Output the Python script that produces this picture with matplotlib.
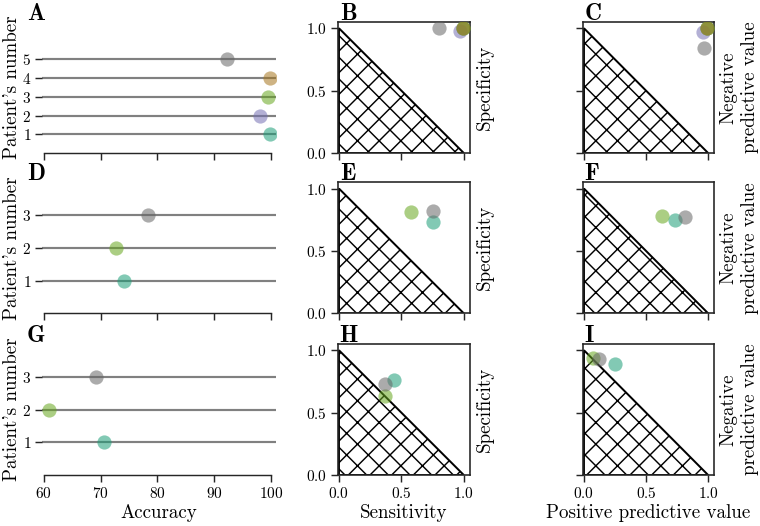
import matplotlib.pyplot as plt
from matplotlib.patches import Polygon

plt.rcParams['font.family'] = 'cmr10'
plt.rcParams['mathtext.fontset'] = 'cm'
plt.rcParams['axes.formatter.use_mathtext'] = True
plt.rcParams['hatch.linewidth'] = 0.8

# Dark2 picks, drawn half transparent
TEAL, PURPLE, GREEN, BROWN, GREY = '#1b9e77', '#7570b3', '#66a61e', '#a6761d', '#666666'

# row 1: five patients
acc_1 = [99.8, 98.0, 99.5, 99.9, 92.3]
sens_1 = [0.99, 0.97, 0.99, 0.99, 0.80]
spec_1 = [1.0, 0.98, 1.0, 1.0, 1.0]
ppv_1 = [0.99, 0.955, 0.99, 0.99, 0.97]
npv_1 = [1.0, 0.97, 1.0, 1.0, 0.84]
col_1 = [TEAL, PURPLE, GREEN, BROWN, GREY]

# row 2: three patients
acc_2 = [74.1, 72.8, 78.3]
sens_2 = [0.75, 0.58, 0.75]
spec_2 = [0.73, 0.81, 0.82]
ppv_2 = [0.73, 0.63, 0.81]
npv_2 = [0.75, 0.78, 0.77]
col_2 = [TEAL, GREEN, GREY]

# row 3: three patients
acc_3 = [70.7, 61.0, 69.2]
sens_3 = [0.44, 0.37, 0.37]
spec_3 = [0.76, 0.63, 0.73]
ppv_3 = [0.25, 0.07, 0.12]
npv_3 = [0.89, 0.94, 0.93]
col_3 = [TEAL, GREEN, GREY]

rows = [
    (acc_1, sens_1, spec_1, ppv_1, npv_1, col_1, 7),
    (acc_2, sens_2, spec_2, ppv_2, npv_2, col_2, 4),
    (acc_3, sens_3, spec_3, ppv_3, npv_3, col_3, 4),
]
letters = [['A', 'B', 'C'], ['D', 'E', 'F'], ['G', 'H', 'I']]

W, H = 760, 526
fig = plt.figure(figsize=(W / 130, H / 130), dpi=130)

col_x = [(42, 234), (337.7, 132.3), (582.7, 131.6)]
row_bottom = [153, 313.3, 475]
ax_h = 131

TICK = 8.5
LAB = 10.5
S = 62
ALPHA = 0.55
SPINE = '0.15'


def style_ticks(ax):
    ax.tick_params(direction='out', length=4, width=0.8, labelsize=TICK,
                   color=SPINE, pad=2)


for r, (acc, sens, spec, ppv, npv, cols, ytop) in enumerate(rows):
    axes = []
    for c in range(3):
        x0, w = col_x[c]
        ax = fig.add_axes([x0 / W, 1 - row_bottom[r] / H, w / W, ax_h / H])
        axes.append(ax)
        fig.text((x0 - 15 if c == 0 else x0 + 2) / W, 1 - (row_bottom[r] - ax_h - 2.5) / H,
                 letters[r][c], fontfamily='cmb10', fontsize=13, va='baseline', ha='left')

    # accuracy panel
    ax = axes[0]
    n = len(acc)
    for i in range(n):
        ax.axhline(i + 1, color='0.5', lw=1.2, zorder=1)
        ax.scatter(acc[i], i + 1, s=S, color=cols[i], alpha=ALPHA, lw=0, zorder=3)
    ax.set_xlim(59.7, 100.9)
    ax.set_ylim(0, ytop)
    ax.set_yticks(range(1, n + 1))
    ax.set_xticks([60, 70, 80, 90, 100])
    for sp in ['top', 'right', 'left']:
        ax.spines[sp].set_visible(False)
    ax.spines['bottom'].set_bounds(60, 100)
    ax.spines['bottom'].set_color(SPINE)
    style_ticks(ax)
    ax.set_ylabel("Patient's number", fontsize=LAB, labelpad=0.5)
    if r < 2:
        ax.set_xticklabels([])
    else:
        ax.set_xlabel('Accuracy', fontsize=LAB, labelpad=2)

    # sensitivity / specificity and ppv / npv panels
    for c, (xs, ys) in zip([1, 2], [(sens, spec), (ppv, npv)]):
        ax = axes[c]
        tri = Polygon([(0, 0), (0, 1), (1, 0)], closed=True, facecolor='none',
                      edgecolor='black', hatch='xx', lw=1.1, zorder=1)
        ax.add_patch(tri)
        for i in range(len(xs)):
            ax.scatter(xs[i], ys[i], s=S, color=cols[i], alpha=ALPHA, lw=0, zorder=3)
        ax.set_xlim(-0.01, 1.05)
        ax.set_ylim(0, 1.05)
        ax.set_xticks([0, 0.5, 1.0])
        ax.set_yticks([0, 0.5, 1.0])
        for sp in ax.spines.values():
            sp.set_color(SPINE)
            sp.set_linewidth(0.9)
        style_ticks(ax)
        ax.yaxis.set_label_position('right')
        if c == 1:
            ax.set_ylabel('Specificity', fontsize=LAB, labelpad=3)
        else:
            ax.set_ylabel('Negative\npredictive value', fontsize=LAB, labelpad=3)
            ax.set_yticklabels([])
        if r < 2:
            ax.set_xticklabels([])
        else:
            ax.set_xlabel('Sensitivity' if c == 1 else 'Positive predictive value',
                          fontsize=LAB, labelpad=2)

fig.savefig('out.png', dpi=130)
